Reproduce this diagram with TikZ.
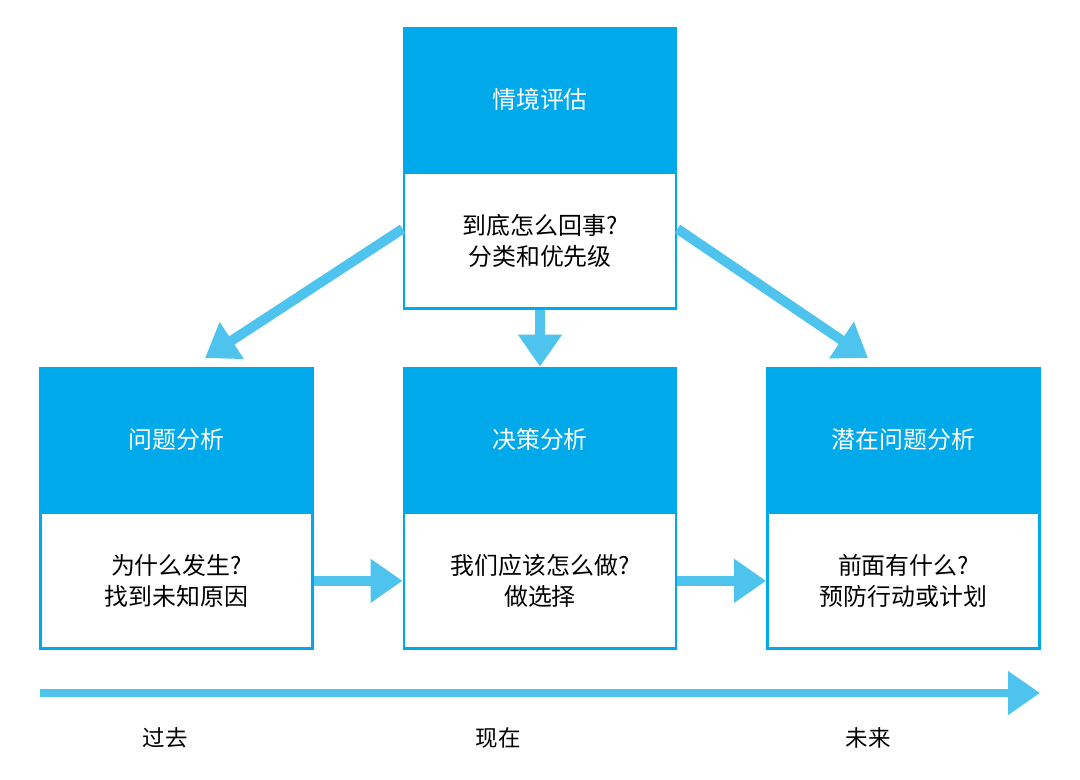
\documentclass[tikz,border=0pt]{standalone}
\usepackage{fontspec}
\setmainfont{Noto Sans CJK SC}
\usetikzlibrary{arrows.meta,positioning}
\definecolor{headblue}{HTML}{00A9EA}
\definecolor{arrowblue}{HTML}{4EC3EE}
\tikzset{
  head/.style={draw=headblue,fill=headblue,line width=2pt,minimum width=6.8cm,minimum height=3.55cm,text=white,font=\fontsize{17}{20}\selectfont,inner sep=0pt},
  body/.style={draw=headblue,fill=white,line width=2pt,minimum width=6.8cm,minimum height=3.4cm,align=center,font=\fontsize{17}{22}\selectfont,inner sep=0pt},
  flow/.style={draw=arrowblue,line width=7pt,-{Triangle[length=0.8cm,width=1.05cm]}},
  era/.style={font=\fontsize{16}{18}\selectfont}
}
\begin{document}
\begin{tikzpicture}[x=0.025cm,y=-0.025cm]
   \useasboundingbox (0,0) rectangle (1080,779);
   % top
   \node[head] (qjh) at (540,99) {情境评估};
   \node[body,below=0pt of qjh] (qjb) {到底怎么回事?\\分类和优先级};
   % bottom row
   \node[head] (wth) at (176.5,439) {问题分析};
   \node[body,below=0pt of wth] (wtb) {为什么发生?\\找到未知原因};
   \node[head] (jch) at (540,439) {决策分析};
   \node[body,below=0pt of jch] (jcb) {我们应该怎么做?\\做选择};
   \node[head] (qzh) at (903.5,439) {潜在问题分析};
   \node[body,below=0pt of qzh] (qzb) {前面有什么?\\预防行动或计划};

   \draw[flow] (qjb.west) ++(0,-12) -- (205,358);
   \draw[flow] (qjb.east) ++(0,-12) -- (868,358);
   \draw[flow] (qjb.south) -- (jch.north);
   \draw[flow] (wtb.east) -- (jcb.west);
   \draw[flow] (jcb.east) -- (qzb.west);

   % time line
   \coordinate (t0) at (40,693);
   \coordinate (t1) at (1040,693);
   \draw[flow,line width=6pt] (t0) -- (t1);
   \node[era] (past) at (165,738) {过去};
   \node[era] (now) at (498,738) {现在};
   \node[era] (future) at (868,738) {未来};
\end{tikzpicture}
\end{document}
